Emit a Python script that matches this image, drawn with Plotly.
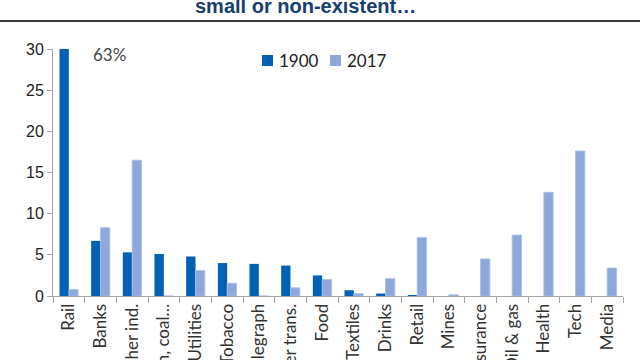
import plotly.graph_objects as go

categories = ["Rail", "Banks", "Other ind.", "Iron, coal…", "Utilities", "Tobacco",
              "Telegraph", "Other trans.", "Food", "Textiles", "Drinks", "Retail",
              "Mines", "Insurance", "Oil & gas", "Health", "Tech", "Media"]
share_1900 = [63, 6.7, 5.3, 5.1, 4.8, 4.0, 3.9, 3.7, 2.5, 0.7, 0.3, 0.05,
              0.0, 0.0, 0.0, 0.0, 0.0, 0.0]
share_2017 = [0.8, 8.3, 16.5, 0.0, 3.1, 1.55, 0.0, 1.0, 2.0, 0.3, 2.1, 7.1,
              0.15, 4.5, 7.4, 12.6, 17.6, 3.4]
y_ticks = [0, 5, 10, 15, 20, 25, 30]
series_names = ["1900", "2017"]

DARK = "#0061B5"
LIGHT = "#8EA8DC"
CAL = "Lato, Carlito, Calibri, sans-serif"
ARIAL = "Liberation Sans, Arial, sans-serif"

W, H = 640, 360
L, R, T, B = 53, 623, 49, 296          # axes area in pixels
def px(x): return x / W                # paper spans the whole width
def py(y): return (B - y) / B          # paper spans from top down to the x axis

fig = go.Figure()
fig.add_trace(go.Bar(x=categories, y=share_1900, name=series_names[0],
                     marker=dict(color=DARK, line=dict(width=0))))
fig.add_trace(go.Bar(x=categories, y=share_2017, name=series_names[1],
                     marker=dict(color=LIGHT, line=dict(color="#A9BFE6", width=0.8))))

shapes = [
    # rule under the title
    dict(type="line", xref="paper", yref="paper", x0=0, x1=1, y0=py(21), y1=py(21),
         line=dict(color="#3A3A3A", width=2)),
]
for color, sx in zip([DARK, LIGHT], [262, 330]):
    shapes.append(dict(type="rect", xref="paper", yref="paper",
                       x0=px(sx), x1=px(sx + 11), y0=py(66), y1=py(55),
                       fillcolor=color, line=dict(width=0)))

fig.update_layout(
    width=W, height=H,
    margin=dict(l=0, r=0, t=0, b=H - B, autoexpand=False),
    paper_bgcolor="white", plot_bgcolor="white",
    barmode="group", bargap=0.41, bargroupgap=0,
    showlegend=False,
    shapes=shapes,
)
fig.update_xaxes(
    type="category", tickangle=-90, automargin=False, domain=[L / W, R / W],
    tickson="boundaries", ticks="outside", ticklen=6, tickcolor="#A6A6A6",
    showline=True, linecolor="#A6A6A6", linewidth=1,
    tickfont=dict(family=CAL, size=17, color="#333333"),
    showgrid=False, fixedrange=True,
)
fig.update_yaxes(
    range=[0, 30], tickvals=y_ticks, automargin=False, domain=[0, (B - T) / B],
    ticks="outside", ticklen=5, tickcolor="#A6A6A6",
    showline=True, linecolor="#A6A6A6", linewidth=1,
    tickfont=dict(family=ARIAL, size=16, color="#222222"),
    showgrid=False, zeroline=False, fixedrange=True,
)
# title (top of it is cut by the image edge in the reference)
fig.add_annotation(text="<b>small or non-existent…</b>", xref="paper", yref="paper",
                   x=px(305), y=py(6), xanchor="center", yanchor="middle",
                   showarrow=False, font=dict(family=ARIAL, size=20, color="#17406F"))
fig.add_annotation(text="63%", xref="paper", yref="paper", x=px(109), y=py(54),
                   xanchor="center", yanchor="middle",
                   showarrow=False, font=dict(family=CAL, size=17, color="#444444"))
for name, sx in zip(series_names, [262, 330]):
    fig.add_annotation(text=name, xref="paper", yref="paper", x=px(sx + 15), y=py(60.5),
                       xanchor="left", yanchor="middle", showarrow=False,
                       font=dict(family=CAL, size=17, color="#222222"))

fig.write_html("out.html", config={"displayModeBar": False},
               post_script="document.body.style.margin='0';")
